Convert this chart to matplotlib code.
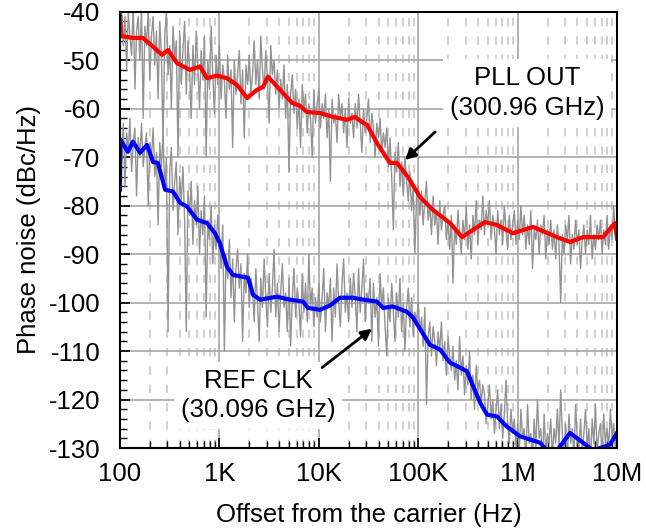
import numpy as np
import matplotlib
matplotlib.use("Agg")
import matplotlib.pyplot as plt
from matplotlib.ticker import FixedLocator, LogLocator, NullFormatter, MultipleLocator

plt.rcParams['font.family'] = ['Liberation Sans', 'DejaVu Sans']
plt.rcParams['axes.unicode_minus'] = False

# ---- raw (gray) measurements, 60 samples per decade, 100 Hz .. 10 MHz ----
raw_f = np.logspace(2, 7, 301)

pll_raw = [
    -43, -39, -47, -41, -52, -40, -45, -49, -38, -56, -44, -41, -50, -39, -62, -43, -47, -40, -54, -45,
    -41, -51, -44, -58, -42, -49, -67, -45, -40, -53, -47, -60, -43, -50, -46, -70, -44, -55, -48, -42,
    -57, -46, -52, -62, -47, -55, -44, -51, -60, -48, -54, -45, -70, -50, -56, -43, -53, -61, -49, -55,
    -47, -58, -51, -54, -62, -49, -56, -52, -68, -50, -57, -53, -48, -59, -52, -66, -51, -55, -49, -57,
    -53, -46, -55, -50, -58, -45, -52, -56, -48, -54, -63, -47, -53, -50, -57, -52, -60, -54, -58, -51,
    -62, -55, -73, -57, -53, -61, -56, -64, -58, -68, -55, -60, -57, -65, -59, -62, -70, -56, -63, -59,
    -56, -64, -59, -62, -57, -66, -60, -75, -58, -63, -61, -67, -57, -62, -59, -65, -60, -68, -58, -63,
    -61, -66, -59, -64, -57, -63, -69, -60, -65, -62, -58, -67, -61, -64, -70, -63, -66, -62, -69, -65,
    -68, -64, -72, -66, -74, -85, -69, -73, -67, -76, -71, -78, -70, -75, -79, -73, -81, -76, -90, -78,
    -76, -82, -77, -84, -79, -75, -83, -80, -86, -78, -84, -81, -88, -79, -85, -82, -80, -87, -83, -89,
    -82, -96, -84, -88, -81, -86, -90, -83, -87, -80, -89, -84, -91, -82, -86, -79, -88, -83, -85, -78,
    -86, -81, -84, -79, -87, -82, -85, -90, -81, -86, -83, -88, -80, -85, -89, -82, -87, -84, -81, -88,
    -83, -87, -80, -86, -82, -89, -84, -88, -81, -93, -85, -87, -83, -90, -84, -86, -82, -91, -85, -88,
    -83, -89, -85, -91, -84, -88, -100, -86, -90, -84, -87, -82, -92, -86, -89, -83, -88, -85, -93, -87,
    -84, -90, -85, -88, -82, -91, -86, -89, -84, -87, -83, -90, -85, -88, -82, -89, -84, -87, -80, -86,
    -84,
]

ref_raw = [
    -66, -71, -63, -76, -65, -69, -62, -73, -67, -64, -78, -66, -70, -63, -72, -68, -65, -80, -67, -70,
    -64, -74, -69, -84, -67, -72, -65, -77, -70, -106, -73, -68, -81, -75, -71, -86, -74, -79, -72, -83,
    -106, -77, -82, -75, -88, -79, -84, -76, -90, -81, -86, -78, -103, -83, -87, -80, -92, -84, -89, -82,
    -86, -93, -84, -110, -90, -95, -87, -99, -91, -104, -93, -89, -97, -92, -108, -94, -98, -90, -101, -95,
    -97, -104, -93, -100, -108, -95, -101, -91, -99, -105, -94, -102, -97, -89, -103, -96, -106, -98, -92, -101,
    -98, -106, -95, -109, -99, -93, -103, -97, -100, -107, -94, -102, -96, -104, -90, -101, -97, -105, -99, -103,
    -96, -104, -99, -93, -106, -98, -101, -95, -108, -97, -103, -92, -100, -105, -96, -91, -102, -98, -104, -95,
    -101, -94, -99, -106, -93, -102, -97, -91, -104, -98, -100, -95, -108, -96, -103, -99, -109, -94, -101, -97,
    -105, -111, -99, -104, -96, -102, -108, -98, -103, -95, -106, -100, -110, -101, -97, -105, -99, -107, -102, -104,
    -100, -106, -103, -109, -101, -121, -107, -104, -111, -105, -108, -113, -106, -110, -104, -112, -108, -115, -107, -111,
    -114, -109, -116, -112, -118, -107, -115, -111, -119, -113, -117, -110, -120, -115, -122, -113, -118, -116, -121, -117,
    -119, -125, -121, -117, -124, -120, -127, -122, -118, -126, -121, -128, -123, -116, -125, -129, -122, -127, -124, -130,
    -125, -131, -122, -128, -126, -133, -121, -129, -127, -132, -124, -130, -120, -128, -126, -133, -123, -131, -127, -129,
    -124, -132, -126, -129, -122, -130, -118, -127, -131, -125, -133, -123, -129, -126, -132, -121, -128, -130, -124, -131,
    -127, -122, -130, -126, -133, -124, -129, -121, -131, -127, -125, -132, -123, -129, -126, -130, -122, -128, -125, -130,
    -127,
]

# ---- smoothed traces ----
pll_f = [100, 102, 135, 170, 215, 265, 304, 374, 506, 638, 750, 946, 1190, 1500, 1900, 2390,
         2750, 3080, 4070, 5380, 6470, 7600, 10280, 13900, 19200, 23100, 27900, 30500, 38500,
         52000, 61200, 78900, 104000, 141000, 209000, 276000, 356000, 470000, 621000, 899000,
         1.43e6, 2.49e6, 3.37e6, 4.55e6, 7.23e6, 9.55e6, 1e7]
pll_v = [-41, -45, -45.4, -45.4, -47.2, -48.9, -47.9, -50.6, -52, -51.3, -53.7, -53.2, -53.7, -55.1,
         -57.8, -56.1, -55.5, -53.4, -56.1, -58.8, -59.4, -60.7, -60.9, -61.7, -62.3, -61.7, -62.9,
         -63.3, -67.1, -71.2, -71.2, -74.1, -78.2, -80.9, -83.6, -86.5, -85, -83.4, -84, -85.7,
         -84.4, -86.5, -87.5, -86.5, -86.5, -83.6, -86.8]

ref_f = [100, 101, 120, 135, 159, 187, 215, 241, 284, 341, 402, 472, 595, 750, 903, 1010, 1190,
         1370, 1940, 2180, 2560, 3790, 5130, 6930, 7780, 10280, 12960, 16300, 22100, 27900, 38500,
         44300, 55700, 77100, 88700, 131000, 166000, 209000, 263000, 310000, 419000, 492000,
         621000, 782000, 1.06e6, 1.68e6, 1.98e6, 2.49e6, 3.37e6, 4.55e6, 5.74e6, 8.5e6, 1e7]
ref_v = [-76.7, -66.4, -68.9, -66.8, -69.1, -67.5, -71, -71.2, -76.7, -77.1, -79.4, -80.2, -82.9,
         -83.6, -85.7, -87.7, -92.6, -94.3, -94.9, -98.4, -99.4, -98.8, -99.4, -99.8, -101.1,
         -101.5, -100.6, -99, -99, -99.4, -99.8, -101.1, -100.8, -101.9, -103.1, -108.7, -109.7,
         -112.4, -113.4, -114.2, -120.6, -123.1, -123.5, -125.6, -127.6, -128.9, -130.5, -130.5,
         -126.9, -128.9, -130.5, -129.3, -126.9]

x_ticks = [1e2, 1e3, 1e4, 1e5, 1e6, 1e7]
x_labels = ['100', '1K', '10K', '100K', '1M', '10M']
y_ticks = list(range(-130, -39, 10))

FS = 18.5

fig = plt.figure(figsize=(6.46, 5.29), dpi=100)
ax = fig.add_axes([120/646, 1 - 448/529, 497/646, (448 - 11.7)/529])

ax.plot(raw_f, pll_raw, color='#939393', lw=1.0, zorder=2)
ax.plot(raw_f, ref_raw, color='#939393', lw=1.0, zorder=2)
ax.plot(pll_f, pll_v, color='#ff0000', lw=3.0, zorder=3, solid_joinstyle='round')
ax.plot(ref_f, ref_v, color='#0000ff', lw=3.0, zorder=3, solid_joinstyle='round')

ax.set_xscale('log')
ax.set_xlim(1e2, 1e7)
ax.set_ylim(-130, -40)
ax.xaxis.set_major_locator(FixedLocator(x_ticks))
ax.set_xticklabels(x_labels)
ax.xaxis.set_minor_locator(LogLocator(base=10, subs=np.arange(2, 10)))
ax.xaxis.set_minor_formatter(NullFormatter())
ax.set_yticks(y_ticks)
ax.yaxis.set_minor_locator(MultipleLocator(2))

ax.grid(which='major', axis='both', color='#a6a6a6', lw=1.2, ls='-', zorder=1)
ax.grid(which='minor', axis='x', color='#c8c8c8', lw=1.2, ls=(0, (5, 6)), zorder=1)
ax.set_axisbelow(True)

ax.tick_params(which='major', direction='in', length=7, width=1.2, labelsize=FS, top=False, right=False)
ax.tick_params(which='minor', direction='in', length=5, width=1.0)
ax.tick_params(axis='x', which='major', pad=10)
ax.tick_params(axis='y', which='major', pad=14)
for s in ax.spines.values():
    s.set_linewidth(1.5)
    s.set_zorder(5)

ax.set_xlabel('Offset from the carrier (Hz)', fontsize=FS, labelpad=12)
ax.set_ylabel('Phase noise (dBc/Hz)', fontsize=FS, labelpad=6)

box = dict(facecolor='white', edgecolor='none', pad=5)
ax.text(1.24e6, -56.8, 'PLL OUT\n(300.96 GHz)', ha='center', va='center', fontsize=FS,
        linespacing=1.3, bbox=box, zorder=6)
ax.text(2440, -119.2, 'REF CLK\n(30.096 GHz)', ha='center', va='center', fontsize=FS,
        linespacing=1.3, bbox=box, zorder=6)

arrow = dict(arrowstyle='-|>', color='black', lw=2, mutation_scale=16, shrinkA=0, shrinkB=0)
ax.annotate('', xy=(7.36e4, -70.6), xytext=(1.48e5, -64.8), arrowprops=arrow, zorder=7)
ax.annotate('', xy=(3.43e4, -105.4), xytext=(1.08e4, -113.4), arrowprops=arrow, zorder=7)

fig.savefig('out.png', dpi=100)
